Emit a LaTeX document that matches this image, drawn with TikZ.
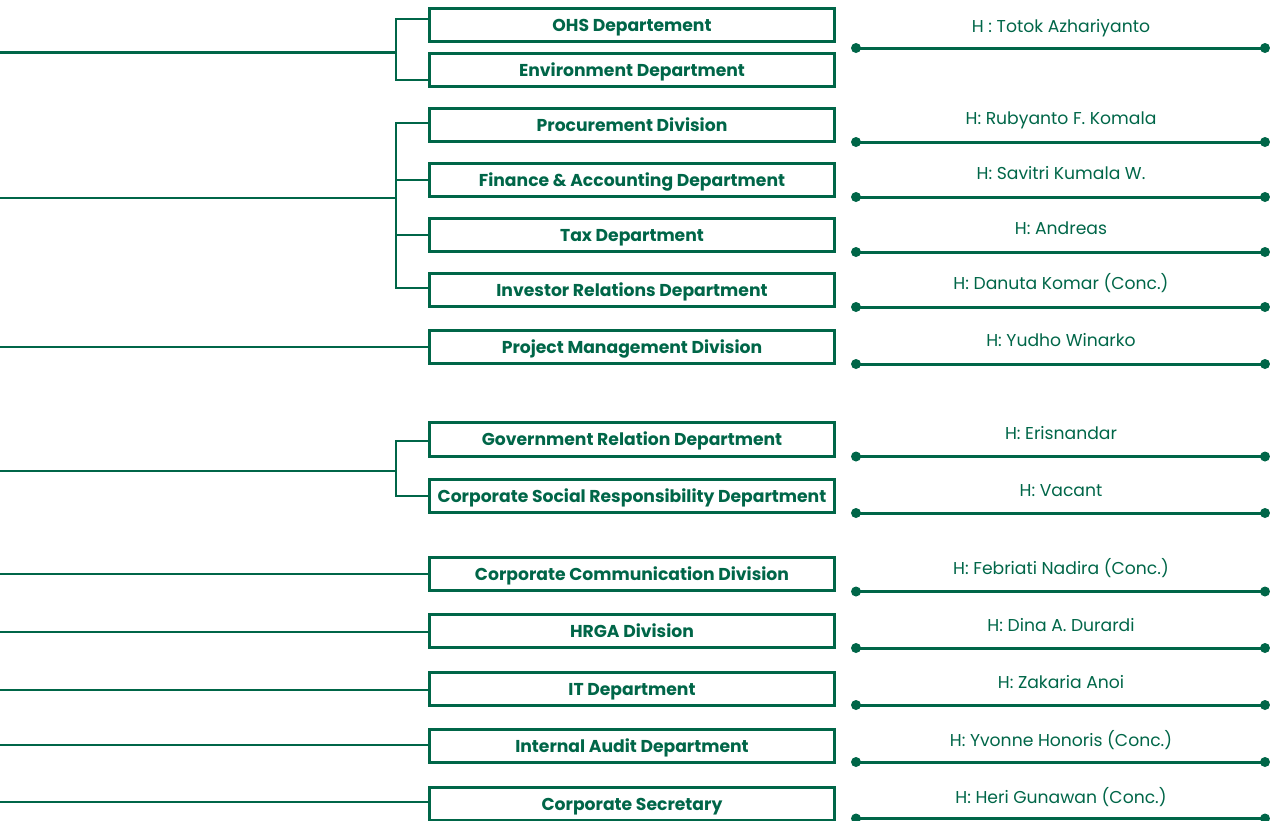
\documentclass[tikz,border=0pt]{standalone}
\usepackage{fontspec}
\setmainfont{Poppins}
\definecolor{grn}{RGB}{0,102,72}
\begin{document}
\begin{tikzpicture}[x=1pt,y=-1pt,
  unitbox/.style={draw=grn, line width=2.9pt, minimum width=405pt, minimum height=33.5pt, inner sep=0pt, font=\bfseries\fontsize{17.2}{20}\selectfont, text=grn, text height=12pt, text depth=0pt},
  link/.style={draw=grn, line width=2.8pt},
  headname/.style={font=\fontsize{17.2}{20}\selectfont, text=grn, inner sep=0pt, text height=12pt, text depth=0pt},
  rule/.style={draw=grn, line width=3pt}]
\useasboundingbox (0,0) rectangle (1270,820);

% unit boxes
\node[unitbox] (ohs)  at (632,25)    {OHS Departement};
\node[unitbox] (env)  at (632,70)    {Environment Department};
\node[unitbox] (proc) at (632,125)   {Procurement Division};
\node[unitbox] (fin)  at (632,180)   {Finance \& Accounting Department};
\node[unitbox] (tax)  at (632,235)   {Tax Department};
\node[unitbox] (inv)  at (632,290)   {Investor Relations Department};
\node[unitbox] (proj) at (632,347)   {Project Management Division};
\node[unitbox] (gov)  at (632,439.5) {Government Relation Department};
\node[unitbox] (csr)  at (632,496)   {Corporate Social Responsibility Department};
\node[unitbox] (cc)   at (632,574)   {Corporate Communication Division};
\node[unitbox] (hrga) at (632,631)   {HRGA Division};
\node[unitbox] (it)   at (632,689)   {IT Department};
\node[unitbox] (ia)   at (632,746)   {Internal Audit Department};
\node[unitbox] (cs)   at (632,804)   {Corporate Secretary};

% left incoming lines
\coordinate (s1) at (0,52.7);  \coordinate (b1) at (396,52.7);
\coordinate (s2) at (0,198);   \coordinate (b2) at (396,198);
\coordinate (s3) at (0,347);
\coordinate (s4) at (0,471);   \coordinate (b4) at (396,471);
\coordinate (s5) at (0,574);
\coordinate (s6) at (0,632);
\coordinate (s7) at (0,690);
\coordinate (s8) at (0,745);
\coordinate (s9) at (0,802);

\draw[link] (s1) -- (b1);
\draw[link] ([yshift=6pt]ohs.west) -| (b1) |- ([yshift=-10pt]env.west);
\draw[link] (s2) -- (b2);
\draw[link] ([yshift=2pt]proc.west) -| (b2) |- ([yshift=2pt]inv.west);
\draw[link] (fin.west) -- (fin.west -| b2);
\draw[link] (tax.west) -- (tax.west -| b2);
\draw[link] (s3) -- (proj.west);
\draw[link] (s4) -- (b4);
\draw[link] ([yshift=-1.5pt]gov.west) -| (b4) |- (csr.west);
\draw[link] (s5) -- (cc.west);
\draw[link] (s6) -- (s6 -| hrga.west);
\draw[link] (s7) -- (s7 -| it.west);
\draw[link] (s8) -- (s8 -| ia.west);
\draw[link] (s9) -- (s9 -| cs.west);

% heads with rules
\foreach \i/\ly/\ty/\txt in {
  1/48/26/{H : Totok Azhariyanto},
  2/142/118/{H: Rubyanto F. Komala},
  3/197/173/{H: Savitri Kumala W.},
  4/252/228/{H: Andreas},
  5/307/283/{H: Danuta Komar (Conc.)},
  6/364/340/{H: Yudho Winarko},
  7/456.5/433/{H: Erisnandar},
  8/513/490/{H: Vacant},
  9/591.5/568/{H: Febriati Nadira (Conc.)},
  10/648/625/{H: Dina A. Durardi},
  11/705/682/{H: Zakaria Anoi},
  12/762/740/{H: Yvonne Honoris (Conc.)},
  13/818.5/797/{H: Heri Gunawan (Conc.)}}{
  \coordinate (l\i) at (856,\ly);
  \coordinate (r\i) at (1265,\ly);
  \draw[rule] (l\i) -- (r\i);
  \fill[grn] (l\i) circle[radius=5pt];
  \fill[grn] (r\i) circle[radius=5pt];
  \node[headname] (h\i) at (1061,\ty) {\txt};
}
\end{tikzpicture}
\end{document}
